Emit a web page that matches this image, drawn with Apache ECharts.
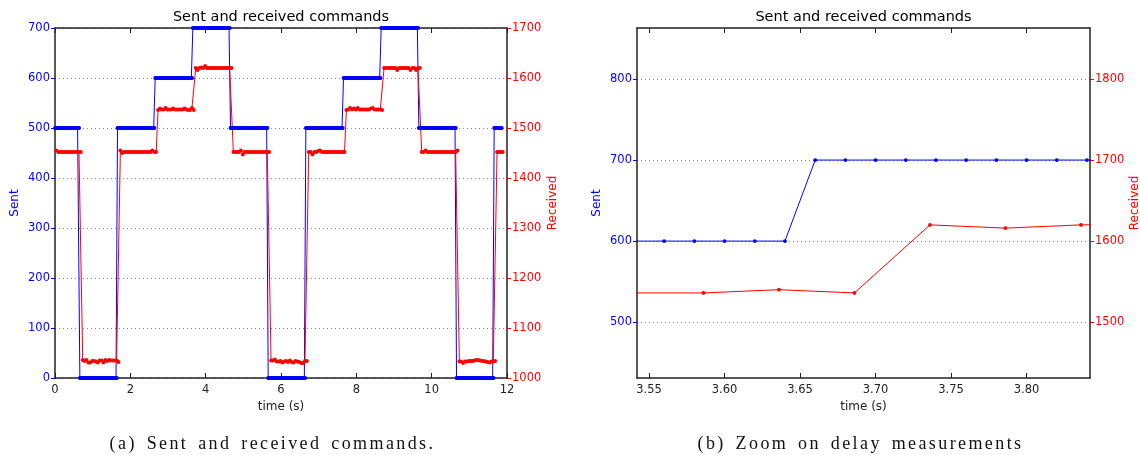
<!DOCTYPE html>
<html>
<head>
<meta charset="utf-8">
<script src="https://cdn.jsdelivr.net/npm/echarts@6/dist/echarts.min.js"></script>
<style>
  html, body { margin: 0; padding: 0; background: #fff; }
  #wrap { position: relative; width: 1140px; height: 455px; overflow: hidden; }
  #chart { position: absolute; left: 0; top: 0; width: 1140px; height: 455px; }
  .cap {
    position: absolute; top: 433px; line-height: 20px;
    font-family: "Liberation Serif", serif; font-size: 18px;
    letter-spacing: 2.4px; word-spacing: 3px;
    color: #111; text-align: center; white-space: nowrap;
  }
</style>
</head>
<body>
<div id="wrap">
  <div id="chart"></div>
  <div class="cap" style="left:0px; width:545px;">(a) Sent and received commands.</div>
  <div class="cap" style="left:581px; width:559px;">(b) Zoom on delay measurements</div>
</div>
<script>
// Sent command: one level per 1 s step, sampled every 20 ms
const sentLevels = [500, 0, 500, 600, 700, 500, 0, 500, 600, 700, 500, 0, 500];
const sentSwitchTimes = [0.65, 1.65, 2.65, 3.65, 4.65, 5.65, 6.65, 7.65, 8.65, 9.65, 10.65, 11.65];
const sentPeriod = 0.02;
const sentSampleCount = 594; // 0.00 s … 11.86 s

// Received (measured) value, sampled every 50 ms starting at 0.036 s, one list per step
const recvStart = 0.036;
const recvPeriod = 0.05;
const recvSegments = [
  [1455, 1452, 1452, 1452, 1452, 1452, 1452, 1452, 1452, 1452, 1452, 1452, 1452, 1452],
  [1036, 1034, 1036, 1031, 1031, 1034, 1034, 1033, 1031, 1035, 1035, 1031, 1036, 1034, 1036, 1035, 1035, 1035, 1035, 1032],
  [1455, 1450, 1452, 1452, 1452, 1452, 1452, 1452, 1452, 1452, 1452, 1452, 1452, 1452, 1452, 1452, 1452, 1455, 1452, 1452],
  [1536, 1539, 1537, 1537, 1540, 1537, 1537, 1537, 1539, 1537, 1537, 1537, 1537, 1537, 1539, 1537, 1536, 1536, 1540, 1536],
  [1620, 1616, 1620, 1621, 1620, 1624, 1620, 1620, 1620, 1620, 1620, 1620, 1620, 1620, 1620, 1620, 1620, 1620, 1620, 1620],
  [1452, 1452, 1452, 1452, 1455, 1447, 1452, 1452, 1452, 1452, 1452, 1452, 1452, 1452, 1452, 1452, 1452, 1452, 1452, 1452],
  [1035, 1035, 1037, 1033, 1033, 1034, 1031, 1033, 1034, 1032, 1035, 1032, 1031, 1034, 1033, 1032, 1030, 1030, 1034, 1034],
  [1452, 1452, 1447, 1452, 1452, 1454, 1455, 1452, 1452, 1452, 1452, 1452, 1452, 1452, 1452, 1452, 1452, 1452, 1452, 1452],
  [1536, 1537, 1540, 1537, 1539, 1537, 1540, 1537, 1537, 1537, 1537, 1537, 1537, 1539, 1540, 1537, 1537, 1537, 1537, 1536],
  [1620, 1620, 1620, 1620, 1620, 1620, 1620, 1616, 1620, 1620, 1620, 1620, 1620, 1620, 1616, 1620, 1620, 1616, 1620, 1620],
  [1452, 1452, 1455, 1452, 1452, 1452, 1452, 1452, 1452, 1452, 1452, 1452, 1452, 1452, 1452, 1452, 1452, 1452, 1452, 1455],
  [1033, 1033, 1030, 1033, 1033, 1034, 1034, 1034, 1035, 1036, 1036, 1035, 1034, 1034, 1033, 1032, 1031, 1033, 1033, 1034],
  [1452, 1452, 1452, 1452]
];

// Axis ticks of the zoomed view
const zoomTimeTicks = [3.55, 3.60, 3.65, 3.70, 3.75, 3.80];
const zoomSentTicks = [500, 600, 700, 800];
const zoomRecvTicks = [1500, 1600, 1700, 1800];

// [time, value] pairs for the series
const sentData = [];
for (let k = 0; k < sentSampleCount; k++) {
  const t = +(k * sentPeriod).toFixed(3);
  let step = 0;
  while (step < sentSwitchTimes.length && sentSwitchTimes[step] < t) step++;
  sentData.push([t, sentLevels[step]]);
}
const recvData = [];
recvSegments.flat().forEach((v, k) => {
  recvData.push([+(recvStart + k * recvPeriod).toFixed(3), v]);
});

const BLUE = '#0000ff';
const RED = '#ff0000';
const INK = '#222';
const FONT = 'DejaVu Sans';
const plain = v => String(v);

function xBottom(grid, extra) {
  return Object.assign({
    gridIndex: grid, type: 'value', position: 'bottom',
    name: 'time (s)', nameLocation: 'middle', nameGap: 21,
    nameTextStyle: { color: INK, fontSize: 12, fontFamily: FONT },
    axisLine: { show: true, onZero: false, lineStyle: { color: INK, width: 1.5 } },
    axisTick: { show: true, inside: true, length: 5, lineStyle: { color: INK, width: 1 } },
    axisLabel: { color: INK, fontSize: 11.5, fontFamily: FONT, margin: 6, formatter: plain },
    splitLine: { show: false }
  }, extra);
}
function xTop(grid, extra) {
  return Object.assign({
    gridIndex: grid, type: 'value', position: 'top',
    axisLine: { show: true, onZero: false, lineStyle: { color: INK, width: 1.5 } },
    axisTick: { show: true, inside: true, length: 5, lineStyle: { color: INK, width: 1 } },
    axisLabel: { show: false },
    splitLine: { show: false }
  }, extra);
}
function yAxisDef(grid, side, color, name, gap, extra, withGrid) {
  return Object.assign({
    gridIndex: grid, type: 'value', position: side,
    name: name, nameLocation: 'middle', nameGap: gap, nameRotate: 90,
    nameTextStyle: { color: color, fontSize: 12, fontFamily: FONT },
    axisLine: { show: true, onZero: false, lineStyle: { color: INK, width: 1.5 } },
    axisTick: { show: true, inside: false, length: 4, lineStyle: { color: color, width: 1 } },
    axisLabel: { color: color, fontSize: 11.5, fontFamily: FONT, margin: 5, formatter: plain },
    splitLine: withGrid ? { show: true, lineStyle: { color: '#8a8a8a', width: 1, type: [1, 3] } } : { show: false }
  }, extra);
}

const lineStyleFor = c => ({ color: c, width: 1 });
function seriesDef(name, xi, yi, data, color) {
  return {
    type: 'line', name: name, xAxisIndex: xi, yAxisIndex: yi, data: data,
    symbol: 'circle', symbolSize: 3.8, showSymbol: true, itemStyle: { color: color },
    lineStyle: lineStyleFor(color), clip: true, silent: true
  };
}

const option = {
  animation: false,
  textStyle: { fontFamily: FONT },
  grid: [
    { left: 55, top: 28, width: 452, height: 350, outerBoundsMode: 'none' },
    { left: 637, top: 28, width: 453, height: 350, outerBoundsMode: 'none' }
  ],
  graphic: [
    { type: 'text', x: 281, y: 17, style: { text: 'Sent and received commands', align: 'center', verticalAlign: 'middle', fontSize: 14.5, fontFamily: FONT, fill: '#000' } },
    { type: 'text', x: 863.5, y: 17, style: { text: 'Sent and received commands', align: 'center', verticalAlign: 'middle', fontSize: 14.5, fontFamily: FONT, fill: '#000' } }
  ],
  xAxis: [
    xBottom(0, { min: 0, max: 12, interval: 2 }),
    xTop(0, { min: 0, max: 12, interval: 2 }),
    xBottom(1, {
      min: 3.542, max: 3.842,
      axisTick: { show: true, inside: true, length: 5, lineStyle: { color: INK, width: 1 }, customValues: zoomTimeTicks },
      axisLabel: { color: INK, fontSize: 11.5, fontFamily: FONT, margin: 6, customValues: zoomTimeTicks, formatter: v => v.toFixed(2) }
    }),
    xTop(1, {
      min: 3.542, max: 3.842,
      axisTick: { show: true, inside: true, length: 5, lineStyle: { color: INK, width: 1 }, customValues: zoomTimeTicks }
    })
  ],
  yAxis: [
    yAxisDef(0, 'left', BLUE, 'Sent', 34, { min: 0, max: 700, interval: 100 }, true),
    yAxisDef(0, 'right', RED, 'Received', 40, { min: 1000, max: 1700, interval: 100 }, false),
    yAxisDef(1, 'left', BLUE, 'Sent', 34, {
      min: 431, max: 863,
      axisTick: { show: true, inside: false, length: 4, lineStyle: { color: BLUE, width: 1 }, customValues: zoomSentTicks },
      axisLabel: { color: BLUE, fontSize: 11.5, fontFamily: FONT, margin: 5, customValues: zoomSentTicks, formatter: plain }
    }, true),
    yAxisDef(1, 'right', RED, 'Received', 39, {
      min: 1431, max: 1863,
      axisTick: { show: true, inside: false, length: 4, lineStyle: { color: RED, width: 1 }, customValues: zoomRecvTicks },
      axisLabel: { color: RED, fontSize: 11.5, fontFamily: FONT, margin: 5, customValues: zoomRecvTicks, formatter: plain }
    }, false)
  ],
  series: [
    seriesDef('Sent', 0, 0, sentData, BLUE),
    seriesDef('Received', 0, 1, recvData, RED),
    seriesDef('Sent', 2, 2, sentData, BLUE),
    seriesDef('Received', 2, 3, recvData, RED)
  ]
};

const chart = echarts.init(document.getElementById('chart'), null, { renderer: 'canvas' });
chart.setOption(option);
</script>
</body>
</html>
